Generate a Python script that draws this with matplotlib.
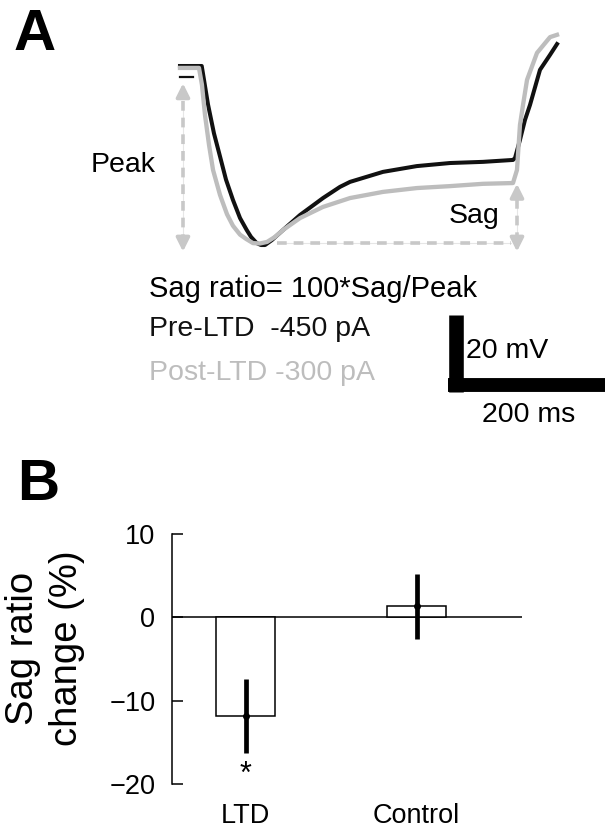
import matplotlib
matplotlib.use("Agg")
import matplotlib.pyplot as plt

plt.rcParams["font.family"] = ["Liberation Sans", "DejaVu Sans"]
plt.rcParams["lines.scale_dashes"] = False

# panel A traces: time (ms from step onset), voltage (mV from baseline)
pre_t = [-25.5, 2.2, 5.1, 10.2, 17.8, 25.5, 33.1, 42.0, 51.0, 59.5, 65.0, 72.2, 77.7,
         82.8, 91.7, 105.7, 127.4, 156.7, 178.3, 191.1, 233.1, 276.1, 318.5, 360.5,
         398.7, 401.3, 407.6, 414.0, 420.4, 433.1, 445.9, 454.8]
pre_v = [0.0, 0.0, -3.6, -10.0, -17.5, -23.5, -29.5, -34.8, -39.5, -42.6, -44.4, -46.0, -46.5,
         -46.5, -45.2, -42.6, -38.7, -34.3, -31.4, -30.1, -27.5, -26.0, -25.2, -24.9,
         -24.4, -23.9, -19.2, -14.0, -10.1, -1.0, 2.9, 5.7]
post_t = [-25.5, -1.3, 2.5, 6.4, 11.5, 16.6, 25.5, 34.4, 42.0, 51.0, 58.6, 67.5, 76.4,
          85.4, 95.5, 105.7, 127.4, 156.7, 191.1, 233.1, 276.4, 318.5, 360.5, 398.7,
          403.8, 407.6, 411.5, 416.6, 429.3, 445.9, 454.8]
post_v = [-0.5, -0.5, -4.9, -12.8, -20.5, -27.0, -33.5, -38.5, -41.5, -43.8, -44.9, -46.0, -46.1,
          -45.7, -44.4, -42.6, -39.5, -36.6, -34.3, -32.7, -31.7, -31.2, -30.6, -30.4,
          -27.0, -15.3, -10.1, -3.6, 3.4, 7.5, 8.1]

# panel B
groups = ["LTD", "Control"]
sag_change = [-11.8, 1.3]
sag_sem = [4.45, 3.85]

W, H = 605, 834
fig = plt.figure(figsize=(W / 100, H / 100), dpi=100)

def px(x, y):
    return x / W, 1 - y / H

gray = "#bdbdbd"
dash_gray = "#c8c8c8"

# trace axes over whole figure: 0.785 px/ms, 3.85 px/mV, onset at x=200, baseline at y=66
kx, ky = 0.785, 3.85
ax = fig.add_axes([0, 0, 1, 1])
ax.set_xlim(-200 / kx, (W - 200) / kx)
ax.set_ylim((66 - H) / ky, 66 / ky)
ax.axis("off")
ax.patch.set_visible(False)

ax.plot(pre_t, pre_v, color="#111111", lw=2.9, solid_joinstyle="round", zorder=3)
ax.plot(post_t, post_v, color=gray, lw=3.1, solid_joinstyle="round", zorder=4)
# little black tick at baseline
ax.plot([-25.5, -9.5], [-2.9, -2.9], color="#111111", lw=1.6)

def dashed(t0, v0, t1, v1):
    # faint shaft plus the dashes
    ax.plot([t0, t1], [v0, v1], color="#e6e6e6", lw=0.8, zorder=1)
    ax.plot([t0, t1], [v0, v1], color=dash_gray, lw=2.6, linestyle=(0, (7, 5)), zorder=2)

def head(t, v, dv):
    ax.annotate("", xy=(t, v), xytext=(t, v + dv),
                arrowprops=dict(arrowstyle="-|>,head_width=0.4,head_length=0.8",
                                color=dash_gray, lw=2.6, shrinkA=0, shrinkB=0),
                annotation_clip=False)

peak_t = -21.7
dashed(peak_t, -9.0, peak_t, -44.5)
head(peak_t, -4.5, -2.5)
head(peak_t, -48.2, 2.5)
sag_t = 403.8
dashed(sag_t, -34.5, sag_t, -44.5)
head(sag_t, -30.6, -2.5)
head(sag_t, -48.2, 2.5)
dashed(98, -46.0, 396, -46.0)

# scale bar 20 mV / 200 ms
ax.plot([325.5, 325.5], [-84.7, -64.7], color="k", lw=10.5, solid_capstyle="butt")
ax.plot([315.9, 515.9], [-82.9, -82.9], color="k", lw=10, solid_capstyle="butt")

fs = 20.5
fig.text(*px(91, 172), "Peak", fontsize=fs, va="baseline")
fig.text(*px(449, 223), "Sag", fontsize=fs, va="baseline")
fig.text(*px(149, 297), "Sag ratio= 100*Sag/Peak", fontsize=21, va="baseline")
fig.text(*px(149, 336), "Pre-LTD  -450 pA", fontsize=fs, va="baseline", color="#111111")
fig.text(*px(149, 380), "Post-LTD -300 pA", fontsize=fs, va="baseline", color=gray)
fig.text(*px(466, 358), "20 mV", fontsize=fs, va="baseline")
fig.text(*px(482, 422), "200 ms", fontsize=fs, va="baseline")

fig.text(*px(14, 50), "A", fontsize=42, fontweight="bold", va="baseline")
fig.text(*px(17, 500), "B", fontsize=42, fontweight="bold", va="baseline")

# panel B bar chart
bx = fig.add_axes([172 / W, 50 / H, 350 / W, 250 / H])
xs = range(len(groups))
bx.bar(xs, sag_change, width=0.35, facecolor="white", edgecolor="k", lw=1.1, zorder=2)
bx.errorbar(xs, sag_change, yerr=sag_sem, fmt="o", ms=4, color="k", lw=3.4, capsize=0, zorder=3)
bx.axhline(0, color="k", lw=1.1, zorder=1)
bx.text(0, -18.9, "*", fontsize=22, ha="center", va="center")
bx.set_xlim(-0.43, 1.617)
bx.set_ylim(-20, 10)
bx.set_yticks([-20, -10, 0, 10])
bx.set_xticks(list(xs))
bx.set_xticklabels(groups)
for s in ["top", "right", "bottom"]:
    bx.spines[s].set_visible(False)
bx.spines["left"].set_linewidth(1.1)
bx.tick_params(axis="y", direction="in", length=8, width=1.1, labelsize=19.5, pad=12)
bx.tick_params(axis="x", length=0, labelsize=19.5, pad=14)
bx.patch.set_visible(False)

fig.text(*px(45, 648), "Sag ratio\nchange (%)", fontsize=27.5, rotation=90,
         ha="center", va="center", multialignment="center", linespacing=1.3)

fig.savefig("out.png", dpi=100)
